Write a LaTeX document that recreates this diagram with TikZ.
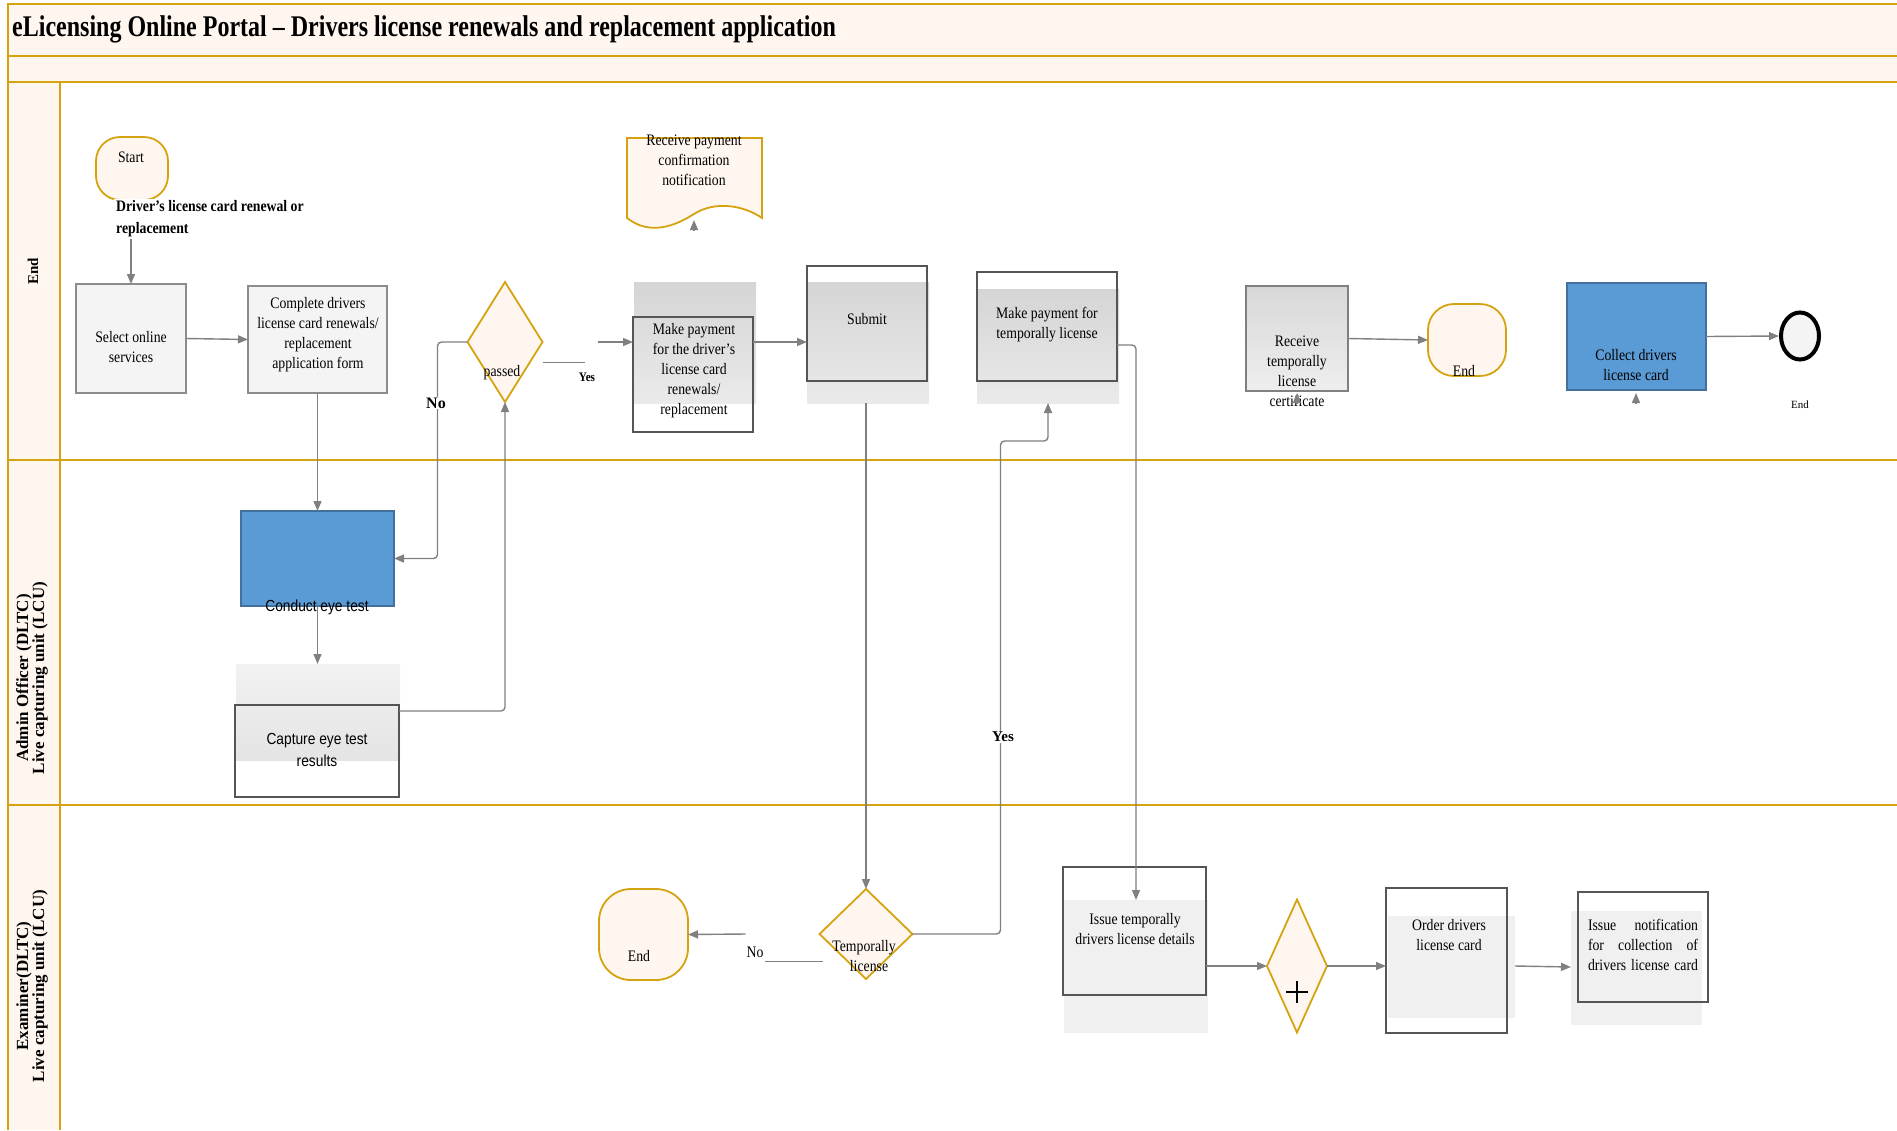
\documentclass[tikz,border=0pt]{standalone}
\usepackage{fontspec}
\setmainfont{Liberation Serif}
\newfontfamily\cond[FakeStretch=0.86]{Liberation Serif}
\newfontfamily\condtitle[FakeStretch=0.80]{Liberation Serif}
\newfontfamily\condsans[FakeStretch=0.86]{Liberation Sans}
\usetikzlibrary{shapes.geometric,arrows.meta,fit,calc}

\definecolor{gold}{RGB}{214,163,16}
\definecolor{cream}{RGB}{254,246,239}
\definecolor{conngray}{RGB}{128,128,128}
\definecolor{boxedge}{RGB}{85,85,85}
\definecolor{lightedge}{RGB}{140,140,140}
\definecolor{paleface}{RGB}{244,244,244}
\definecolor{bluefill}{RGB}{91,155,213}
\definecolor{blueedge}{RGB}{65,113,156}

\newcommand\boxfont{\cond\fontsize{16}{20}\selectfont}
\newcommand\sansfont{\condsans\fontsize{16}{22}\selectfont}

\begin{document}
\begin{tikzpicture}[x=1pt,y=-1pt,
  lanerule/.style={draw=gold, line width=2pt},
  conn/.style={draw=conngray, line width=1.4pt, rounded corners=4pt},
  arr/.style={conn, -{Triangle[length=10pt,width=8pt]}},
  fitbox/.style={inner sep=0pt, outer sep=0pt},
  palebox/.style={fitbox, draw=lightedge, line width=2pt, fill=paleface},
  outline/.style={fitbox, draw=boxedge, line width=1.3pt},
  darkshade/.style={fitbox, top color={rgb,255:red,213;green,213;blue,213}, bottom color={rgb,255:red,234;green,234;blue,234}},
  lightshade/.style={fitbox, fill={rgb,255:red,240;green,240;blue,240}},
  bluebox/.style={fitbox, draw=blueedge, line width=1.5pt, fill=bluefill},
  term/.style={fitbox, draw=gold, line width=1.8pt, fill=cream},
  gate/.style={diamond, draw=gold, line width=1.8pt, fill=cream, inner sep=0pt, outer sep=0pt},
  txt/.style={font=\boxfont, align=center, inner sep=1pt},
  lanetxt/.style={font=\bfseries\fontsize{17}{16}\selectfont, align=center, rotate=90, inner sep=0pt}
]
\useasboundingbox (0,0) rectangle (1897,1130);

% ---------- swimlane frame ----------
\fill[cream] (8,4) rectangle (1897,82);
\fill[cream] (8,82) rectangle (60,1130);
\draw[lanerule] (1897,4) -- (8,4) -- (8,1130);
\draw[lanerule] (8,56) -- (1897,56);
\draw[lanerule] (8,82) -- (1897,82);
\draw[lanerule] (8,460) -- (1897,460);
\draw[lanerule] (8,805) -- (1897,805);
\draw[draw=gold, line width=1.5pt] (60,82) -- (60,1130);

\node[anchor=west, inner sep=0pt, font=\condtitle\bfseries\fontsize{30}{32}\selectfont] (title) at (12,29)
  {eLicensing Online Portal – Drivers license renewals and replacement application};

\node[lanetxt, font=\bfseries\fontsize{15}{16}\selectfont] (lane1) at (33,271) {End};
\node[lanetxt] (lane2) at (32,678) {Admin Officer (DLTC)\\Live capturing unit (LCU)};
\node[lanetxt] (lane3) at (32,986) {Examiner(DLTC)\\Live capturing unit (LCU)};

% ---------- shaded backgrounds of activity boxes ----------
\node[darkshade, fit={(634,282) (756,403)}] (mpS) {};
\node[darkshade, fit={(807,282) (929,403)}] (subS) {};
\node[darkshade, fit={(977,289) (1119,403)}] (mptS) {};
\node[fitbox, top color={rgb,255:red,242;green,242;blue,242}, bottom color={rgb,255:red,228;green,228;blue,228}, fit={(236,664) (400,760)}] (capS) {};
\node[lightshade, fit={(1064,900) (1208,1033)}] (itS) {};
\node[lightshade, fit={(1388,916) (1515,1018)}] (ordS) {};
\node[lightshade, fit={(1571,911) (1702,1025)}] (inS) {};

% ---------- activity boxes ----------
\node[palebox, fit={(76,284) (186,393)}] (sel) {};
\node[palebox, fit={(248,286) (387,393)}] (comp) {};
\node[outline, fit={(633,317) (753,432)}] (mp) {};
\node[outline, fit={(807,266) (927,381)}] (sub) {};
\node[outline, fit={(977,272) (1117,381)}] (mpt) {};
\node[fitbox, draw=conngray, line width=2pt, top color={rgb,255:red,216;green,216;blue,216}, bottom color={rgb,255:red,238;green,238;blue,238}, fit={(1246,286) (1348,391)}] (rtc) {};
\node[bluebox, fit={(1567,283) (1706,390)}] (col) {};
\node[bluebox, fit={(241,511) (394,606)}] (cet) {};
\node[outline, fit={(235,705) (399,797)}] (cap) {};
\node[outline, fit={(1063,867) (1206,995)}] (it) {};
\node[outline, fit={(1386,888) (1507,1033)}] (ord) {};
\node[outline, fit={(1578,892) (1708,1002)}] (in) {};

% ---------- events and gateways ----------
\node[term, rounded corners=24pt, fit={(96,137) (168,200)}] (start) {};
\node[term, rounded corners=26pt, fit={(1428,304) (1506,376)}] (end1) {};
\node[term, rounded corners=32pt, fit={(599,889) (688,980)}] (end2) {};
\node[ellipse, draw=black, line width=4pt, fill=paleface, minimum width=38pt, minimum height=47pt, inner sep=0pt] (endc) at (1800,336) {};
\node[gate, minimum width=75pt, minimum height=120pt] (passed) at (505,342) {};
\node[gate, minimum width=93pt, minimum height=90pt] (tl) at (866,934) {};
\node[gate, minimum width=60pt, minimum height=133pt] (plus) at (1297,966) {};
\draw[black, line width=1.2pt] ($(plus)+(-11,26)$) -- ($(plus)+(11,26)$)
                               ($(plus)+(0,15)$) -- ($(plus)+(0,37)$);

% notification document with wavy lower edge
\draw[draw=gold, line width=1.8pt, fill=cream]
  (627,138) -- (762,138) -- (762,218)
  .. controls (745,206) and (716,200) .. (694,214)
  .. controls (675,226) and (650,236) .. (627,218) -- cycle;
\node[txt] (doc) at (694,160) {Receive payment\\confirmation\\notification};

% ---------- texts ----------
\node[txt] (startT) at (131,157) {Start};
\node[anchor=west, align=left, fill=white, inner sep=2pt, font=\cond\bfseries\fontsize{16}{22}\selectfont] (lbl) at (114,219)
  {Driver’s license card renewal or\\replacement};
\node[txt] (selT) at (131,347) {Select online\\services};
\node[txt] (compT) at (318,335) {Complete drivers\\license card renewals/\\replacement\\application form};
\node[txt] (passedT) at (502,373) {passed};
\node[txt] (mpT) at (694,371) {Make payment\\for the driver’s\\license card\\renewals/\\replacement};
\node[txt] (subT) at (867,319) {Submit};
\node[txt] (mptT) at (1047,325) {Make payment for\\temporally license};
\node[txt] (rtcT) at (1297,371) {Receive\\temporally\\license\\certificate};
\node[txt] (end1T) at (1464,371) {End};
\node[txt, text=black] (colT) at (1636,365) {Collect drivers\\license card};
\node[font=\fontsize{11}{12}\selectfont] (endcT) at (1800,405) {End};
\node[font=\sansfont, inner sep=1pt] (cetT) at (317,607) {Conduct eye test};
\node[font=\sansfont, align=center, inner sep=1pt] (capT) at (317,750) {Capture eye test\\results};
\node[txt] (tlT) at (864,956) {Temporally\\\hspace*{10pt}license};
\node[txt] (end2T) at (639,956) {End};
\node[txt] (itT) at (1135,929) {Issue temporally\\drivers license details};
\node[txt] (ordT) at (1449,935) {Order drivers\\license card};
\node[txt, align=left] (inT) at (1643,945)
  {\makebox[110pt][s]{Issue notification}\\\makebox[110pt][s]{for collection of}\\\makebox[110pt][s]{drivers license card}};

% ---------- connectors ----------
\coordinate (r1) at (0,342);
\draw[arr] (sel.north |- lbl.south) -- (sel.north);
\draw[arr] (sel.east) -- (comp.west);
\draw[arr] (comp.south) -- (comp.south |- cet.north);
\draw[arr] (passed.west) -- ++(-30,0) |- (cet.east);
\draw[arr] ($(cap.north east)+(0,6)$) -| (passed.south);
\draw[conn, line width=1pt] ($(passed.east)+(0,20)$) -- ++(42,0);
\draw[arr] ($(passed.east)+(55,0)$) -- (mp.west |- r1);
\draw[arr] (mp.east |- r1) -- (sub.west |- r1);
\draw[arr] (cet.south) -- (cet.south |- capS.north);
\draw[arr] (tl.north |- subS.south) -- (tl.north);
\draw[arr] (tl.east) -- ++(88,0) |- ($(mptS.south)+(0,38)$) -- (mptS.south);
\draw[arr] ($(mpt.east)+(0,18.5)$) -| (itS.north);
\draw[arr] (rtc.east) -- (end1.west);
\draw[arr] (col.east) -- (endc.west);
\draw[arr] ($(tl.west)+(-74,0)$) -- (end2.east);
\draw[conn, line width=1pt] ($(tl.west)+(-55,27)$) -- ++(58,0);
\draw[arr] (plus.west -| it.east) -- (plus.west);
\draw[arr] (plus.east) -- (plus.east -| ord.west);
\draw[arr] (plus.east -| ordS.east) -- ($(plus.east -| inS.west)+(0,1)$);

% stray arrow tips under a few shapes
\coordinate (docTip) at (694,220);
\coordinate (rtcTip) at (1297,393);
\coordinate (colTip) at (1636,393);
\draw[arr] ($(docTip)+(0,11)$) -- (docTip);
\draw[arr] ($(rtcTip)+(0,11)$) -- (rtcTip);
\draw[arr] ($(colTip)+(0,11)$) -- (colTip);

% ---------- branch labels ----------
\node[fill=white, inner sep=1pt, font=\bfseries\fontsize{16}{18}\selectfont] (noA) at (436,403) {No};
\node[inner sep=1pt, font=\cond\bfseries\fontsize{13}{14}\selectfont] (yesA) at (587,377) {Yes};
\node[fill=white, inner sep=1pt, font=\bfseries\fontsize{15}{16}\selectfont] (yesB) at (1003,737) {Yes};
\node[inner sep=1pt, font=\cond\fontsize{16}{18}\selectfont] (noB) at (755,952) {No};
\end{tikzpicture}
\end{document}
